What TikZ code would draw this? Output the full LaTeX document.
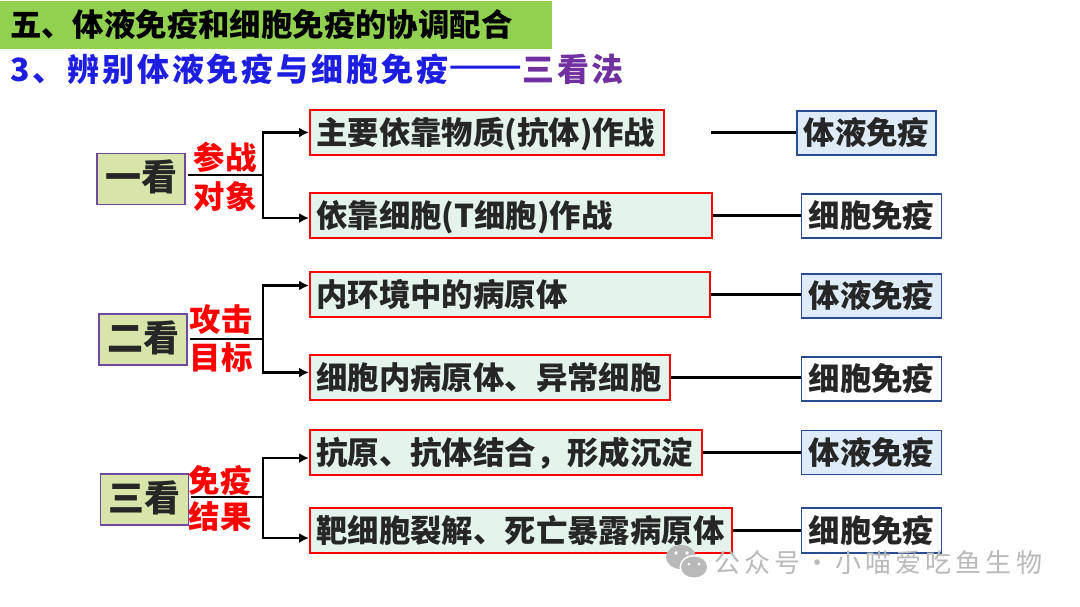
\documentclass[tikz,border=0pt]{standalone}
\usepackage{fontspec}
\setmainfont{Noto Sans CJK SC}
\newfontfamily\widefont[LetterSpace=9]{Noto Sans CJK SC}
\newfontfamily\dashfont[RawFeature=+fwid,FakeBold=3]{Noto Sans CJK SC}
\newfontfamily\markfont[LetterSpace=16]{Noto Sans CJK SC}
\usepackage{tikz}
\usetikzlibrary{positioning,arrows.meta}
\definecolor{barGreen}{RGB}{146,208,80}
\definecolor{lookFill}{RGB}{215,228,170}
\definecolor{lookLine}{RGB}{112,72,160}
\definecolor{mintFill}{RGB}{228,243,236}
\definecolor{skyFill}{RGB}{222,236,249}
\definecolor{kindLine}{RGB}{40,75,145}
\definecolor{inkDark}{RGB}{38,38,38}
\definecolor{subBlue}{RGB}{30,30,225}
\definecolor{subPurple}{RGB}{112,48,160}
\definecolor{markGray}{RGB}{185,185,185}

\begin{document}
\begin{tikzpicture}[
	  x=1pt, y=-1pt,
	  txt/.style={font=\fontsize{31.4}{32}\selectfont\bfseries, text=inkDark, text height=27pt, text depth=4pt},
	  look/.style={txt, font=\fontsize{36}{36}\selectfont\bfseries, draw=lookLine, line width=1.5pt, fill=lookFill, minimum width=88pt, minimum height=51pt, inner sep=0pt},
	  way/.style={txt, draw=red, line width=1.5pt, fill=mintFill, anchor=west, inner xsep=6.5pt, inner ysep=0pt, minimum height=45pt},
	  kind/.style={txt, draw=kindLine, line width=1.5pt, minimum width=140pt, minimum height=44pt, inner sep=0pt},
	  tag/.style={txt, text=red},
	  link/.style={line width=2.3pt, black},
	  arrow/.style={link, -{Latex[length=10pt,width=10pt]}},
	]
	\useasboundingbox (0,0) rectangle (1080,606);
	\fill[fill=white] (0,0) rectangle (1080,606);
	
	% Title bar
	\node[txt, fill=barGreen, text=black, anchor=west, minimum width=552pt, minimum height=48pt, inner xsep=10pt, inner ysep=0pt, text width=532pt] (title) at (0,25) {五、体液免疫和细胞免疫的协调配合};
	\node[anchor=west, inner sep=0pt, font=\fontsize{32}{32}\selectfont\bfseries\widefont] (sub) at (10,69) {\textcolor{subBlue}{3、辨别体液免疫与细胞免疫{\dashfont\fontsize{37}{37}\selectfont ——}}\textcolor{subPurple}{三看法}};
	
	% First look
	\node[look] (one) at (141,179) {一看};
	\node[way, text width=341pt] (w1) at (309,132.5) {主要依靠物质(抗体)作战};
	\node[way, text width=389pt] (w2) at (309,215.5) {依靠细胞(T细胞)作战};
	\node[kind, fill=skyFill, minimum width=139pt] (k1) at (866.5,133) {体液免疫};
	\node[kind, fill=white] (k2) at (871.5,216) {细胞免疫};
	\node[tag] (t1a) at (225,158) {参战};
	\node[tag] (t1b) at (225,197) {对象};
	\coordinate (b1) at (263,175);
	\coordinate (f1) at (711,132.5);
	
	% Second look
	\node[look] (two) at (143,339.5) {二看};
	\node[way, text width=387pt] (w3) at (309,294.5) {内环境中的病原体};
	\node[way, text width=347pt] (w4) at (309,377.5) {细胞内病原体、异常细胞};
	\node[kind, fill=skyFill] (k3) at (871.5,296) {体液免疫};
	\node[kind, fill=white] (k4) at (871.5,379) {细胞免疫};
	\node[tag] (t2a) at (221,320) {攻击};
	\node[tag] (t2b) at (221,358) {目标};
	\coordinate (b2) at (263,339);
	
	% Third look
	\node[look] (three) at (144.5,499.5) {三看};
	\node[way, text width=379pt] (w5) at (309,452.5) {抗原、抗体结合，形成沉淀};
	\node[way, text width=409pt] (w6) at (309,530.5) {靶细胞裂解、死亡暴露病原体};
	\node[kind, fill=skyFill] (k5) at (871.5,452.5) {体液免疫};
	\node[kind, fill=white, minimum height=45pt] (k6) at (871.5,530.5) {细胞免疫};
	\node[tag] (t3a) at (220,481) {免疫};
	\node[tag] (t3b) at (220,517) {结果};
	\coordinate (b3) at (263,497);
	
	% Branches
	\draw[link] ([xshift=2pt]one.east |- b1) -- (b1);
	\draw[arrow] (b1) |- (w1.west);
	\draw[arrow] (b1) |- ([yshift=-2.5pt]w2.west);
	\draw[link] ([xshift=2pt]two.east |- b2) -- (b2);
	\draw[arrow] (b2) |- ([yshift=9pt]w3.west);
	\draw[arrow] (b2) |- ([yshift=5pt]w4.west);
	\draw[link] ([xshift=2pt]three.east |- b3) -- (b3);
	\draw[arrow] (b3) |- ([yshift=-5.5pt]w5.west);
	\draw[arrow] (b3) |- ([yshift=-7.5pt]w6.west);
	
	% Links to the kinds
	\draw[link] (f1) -- (k1.west |- f1);
	\draw[link] (w2.east) -- (k2.west |- w2.east);
	\draw[link] (w3.east) -- (k3.west |- w3.east);
	\draw[link] (w4.east) -- (k4.west |- w4.east);
	\draw[link] (w5.east) -- (k5.west);
	\draw[link] (w6.east) -- (k6.west);
	
	% Watermark
	\fill[markGray] (681,557) ellipse (15pt and 12pt);
	\fill[white] (694,567) ellipse (14.5pt and 12pt);
	\fill[markGray] (694,567) ellipse (13pt and 10.5pt);
	\fill[white] (676,553) circle (1.8pt) (687,553) circle (1.8pt) (689,564) circle (1.5pt) (699,564) circle (1.5pt);
	\node[anchor=west, inner sep=0pt, text=markGray, font=\fontsize{26}{26}\selectfont\markfont] (mark) at (714,563) {公众号\,·\,小喵爱吃鱼生物};
	
	\end{tikzpicture}
\end{document}
